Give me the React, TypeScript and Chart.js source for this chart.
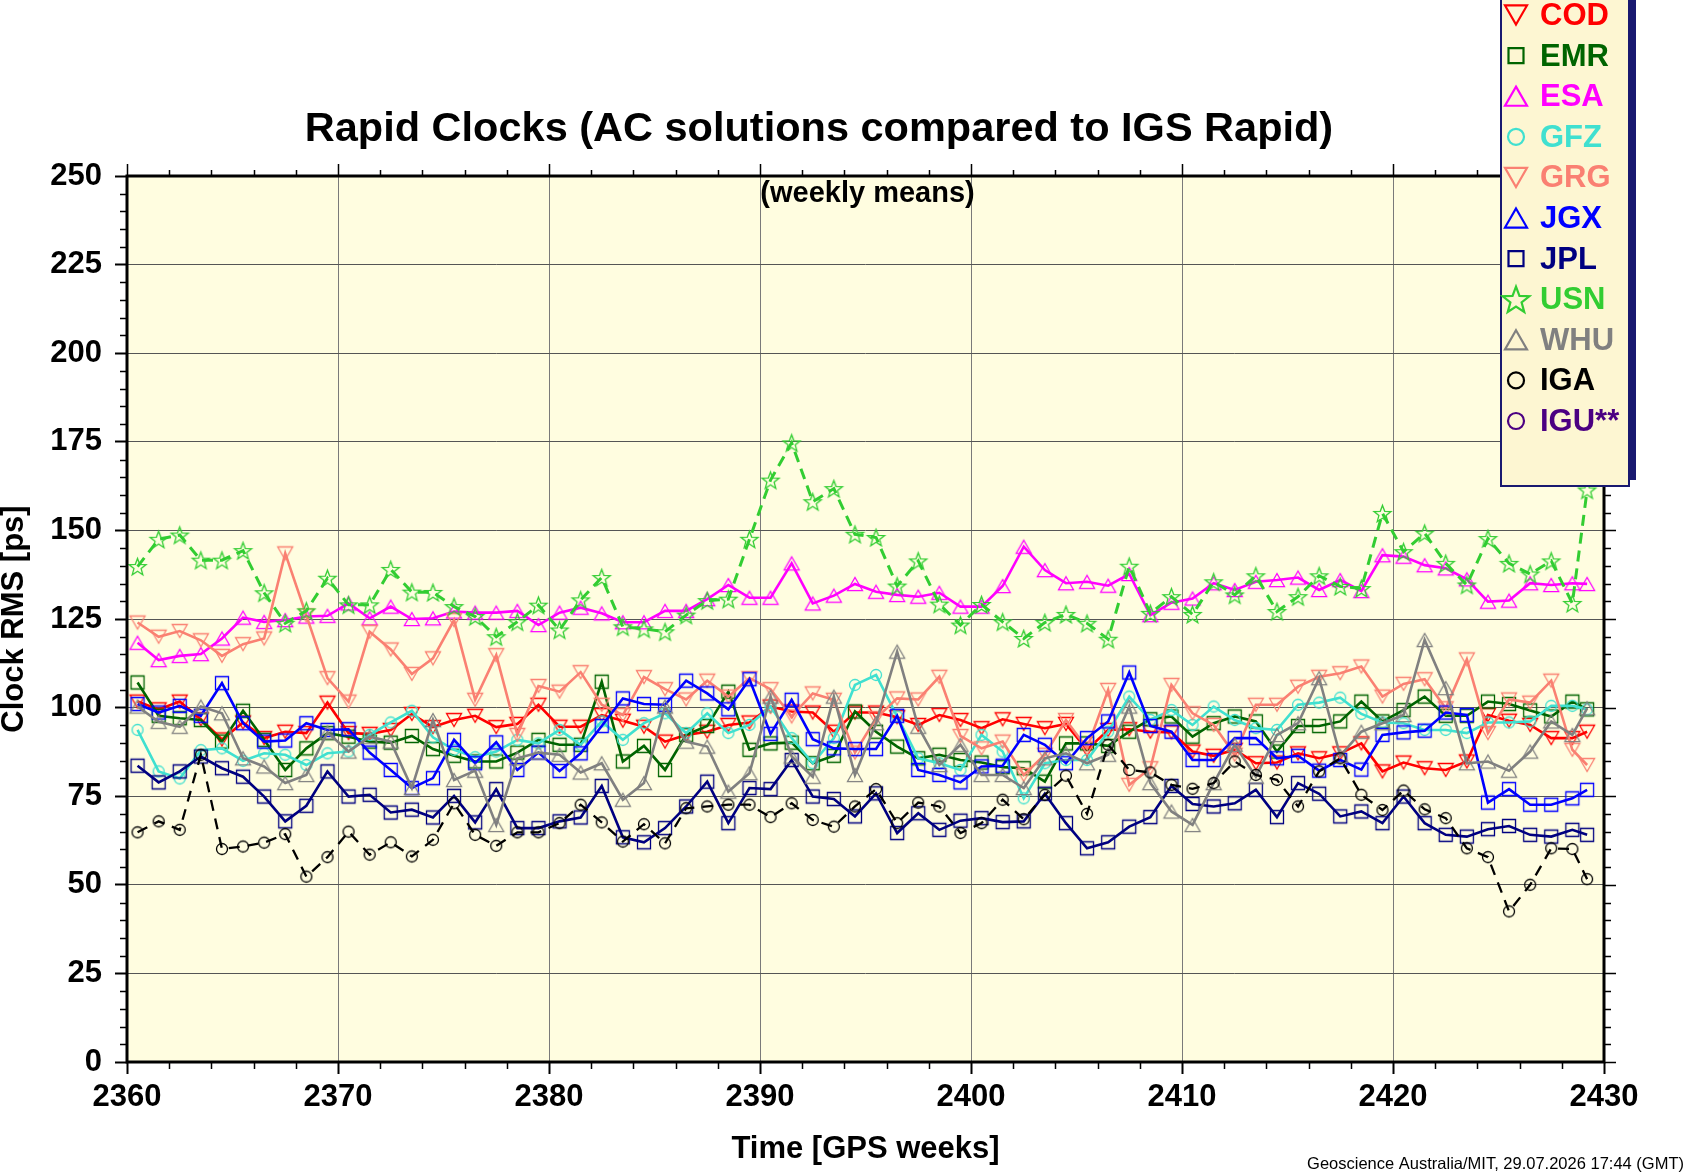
import { useEffect, useRef } from 'react';
import { Chart, registerables } from 'chart.js';

Chart.register(...registerables);

const FONT = "'Liberation Sans', Arial, Helvetica, sans-serif";

// mid-week GPS week of each weekly mean (last one is a partial week)
const weeks = [
  2360.5, 2361.5, 2362.5, 2363.5, 2364.5, 2365.5, 2366.5, 2367.5, 2368.5, 2369.5,
  2370.5, 2371.5, 2372.5, 2373.5, 2374.5, 2375.5, 2376.5, 2377.5, 2378.5, 2379.5,
  2380.5, 2381.5, 2382.5, 2383.5, 2384.5, 2385.5, 2386.5, 2387.5, 2388.5, 2389.5,
  2390.5, 2391.5, 2392.5, 2393.5, 2394.5, 2395.5, 2396.5, 2397.5, 2398.5, 2399.5,
  2400.5, 2401.5, 2402.5, 2403.5, 2404.5, 2405.5, 2406.5, 2407.5, 2408.5, 2409.5,
  2410.5, 2411.5, 2412.5, 2413.5, 2414.5, 2415.5, 2416.5, 2417.5, 2418.5, 2419.5,
  2420.5, 2421.5, 2422.5, 2423.5, 2424.5, 2425.5, 2426.5, 2427.5, 2428.5, 2429.2,
];

// clock RMS [ps] per analysis centre
const cod = [
  101.7, 99.5, 101.7, 96.7, 91.0, 95.8, 91.4, 93.2, 92.8, 101.4,
  92.8, 92.6, 93.7, 98.2, 94.5, 96.5, 97.7, 94.5, 95.4, 100.8,
  94.6, 94.6, 97.9, 96.3, 94.6, 90.4, 92.3, 93.2, 95.1, 95.8,
  100.3, 98.9, 98.6, 93.2, 98.6, 98.6, 97.3, 95.1, 97.9, 96.5,
  94.2, 96.7, 95.4, 94.2, 95.4, 88.1, 93.7, 93.9, 93.2, 93.0,
  87.6, 86.4, 88.1, 84.3, 84.5, 87.1, 85.7, 87.1, 89.9, 82.0,
  84.5, 82.9, 82.4, 84.8, 97.9, 96.3, 95.1, 91.4, 91.4, 93.2,
];
const emr = [
  107.1, 97.7, 97.0, 96.5, 90.4, 99.1, 90.9, 82.4, 88.5, 92.8,
  91.8, 90.4, 90.1, 92.0, 88.3, 86.4, 84.8, 84.8, 87.3, 90.9,
  89.5, 89.5, 107.3, 84.8, 89.2, 82.4, 92.3, 94.8, 104.5, 88.1,
  89.9, 90.1, 84.3, 86.4, 98.9, 93.2, 89.0, 85.7, 86.7, 85.2,
  84.5, 83.2, 82.9, 79.1, 89.9, 89.9, 89.2, 93.2, 96.7, 97.5,
  91.8, 95.6, 97.5, 96.1, 87.6, 94.8, 94.8, 96.1, 101.7, 96.1,
  99.3, 103.1, 97.7, 97.7, 101.7, 101.0, 99.2, 97.5, 101.7, 99.5,
];
const esa = [
  118.3, 113.4, 114.6, 115.1, 119.5, 125.4, 124.2, 124.7, 125.7, 125.9,
  129.4, 125.2, 128.5, 125.0, 125.2, 127.1, 126.8, 126.8, 127.3, 123.3,
  126.8, 128.2, 126.6, 124.1, 124.1, 127.3, 127.3, 130.6, 134.6, 131.0,
  131.0, 140.7, 129.4, 131.6, 134.9, 132.7, 131.8, 131.3, 132.4, 128.5,
  128.5, 134.3, 145.4, 138.8, 135.1, 135.5, 134.4, 137.7, 126.1, 129.6,
  130.8, 135.1, 133.2, 135.5, 136.0, 136.7, 133.2, 136.0, 132.9, 143.0,
  142.6, 140.2, 139.3, 136.2, 129.9, 130.2, 135.1, 134.6, 135.1, 134.9,
];
const gfz = [
  93.7, 82.0, 80.0, 88.0, 88.5, 85.0, 87.1, 86.7, 83.8, 87.1,
  87.6, 92.3, 95.8, 99.1, 91.6, 88.1, 86.0, 87.6, 90.9, 89.9,
  93.7, 89.5, 96.1, 90.9, 95.6, 98.4, 92.8, 98.4, 92.8, 95.1,
  100.3, 91.4, 84.3, 91.4, 106.4, 109.2, 97.5, 85.7, 84.3, 82.4,
  92.3, 87.6, 74.4, 84.3, 85.2, 85.2, 93.2, 103.1, 96.5, 99.3,
  95.1, 100.3, 96.5, 94.2, 93.7, 100.8, 101.4, 102.8, 98.2, 95.8,
  95.6, 93.7, 93.7, 92.8, 95.8, 95.8, 96.1, 100.5, 100.5, 99.5,
];
const grg = [
  124.0, 120.0, 121.6, 119.0, 114.6, 117.9, 119.5, 143.5, 126.0, 108.3,
  101.7, 121.4, 116.4, 109.5, 113.9, 124.7, 102.2, 114.8, 92.3, 106.1,
  104.5, 110.0, 100.8, 97.9, 108.6, 105.2, 102.3, 107.6, 103.1, 108.3,
  105.2, 97.5, 104.0, 102.2, 87.3, 97.0, 102.6, 102.3, 108.7, 92.0,
  88.5, 90.4, 81.0, 86.7, 96.5, 88.5, 105.0, 78.2, 82.9, 106.4,
  98.4, 95.1, 86.7, 100.8, 100.8, 105.9, 108.7, 109.7, 111.6, 103.1,
  106.7, 108.0, 99.8, 113.6, 92.8, 102.3, 101.4, 107.6, 88.1, 83.8,
];
const jgx = [
  101.0, 98.6, 100.5, 97.7, 106.9, 95.6, 90.4, 90.7, 95.6, 93.7,
  93.9, 87.3, 82.4, 77.3, 80.1, 90.9, 84.3, 90.2, 82.4, 87.3,
  82.1, 87.1, 94.8, 102.6, 101.0, 100.8, 107.6, 104.0, 99.5, 108.0,
  92.6, 102.2, 91.1, 88.5, 88.3, 88.3, 97.7, 82.4, 81.0, 78.9,
  83.4, 83.6, 92.3, 89.5, 84.3, 91.4, 96.1, 109.9, 94.8, 93.2,
  85.2, 85.2, 91.4, 91.4, 85.7, 86.4, 82.2, 85.2, 82.5, 92.3,
  93.0, 93.5, 98.6, 97.9, 73.2, 77.0, 72.6, 72.6, 74.4, 76.8,
];
const jpl = [
  83.6, 78.9, 82.0, 86.2, 82.9, 80.5, 74.9, 67.9, 72.3, 82.0,
  74.9, 75.4, 70.4, 71.2, 69.0, 75.1, 67.6, 77.0, 66.0, 66.0,
  67.9, 69.0, 77.9, 63.4, 62.0, 66.0, 72.1, 79.1, 67.4, 77.3,
  77.0, 85.2, 74.9, 74.2, 69.3, 75.8, 64.6, 70.2, 65.5, 68.1,
  68.8, 67.7, 67.9, 75.7, 67.4, 60.3, 62.0, 66.4, 69.1, 77.9,
  72.8, 72.1, 73.0, 76.8, 69.1, 78.7, 75.7, 69.3, 70.7, 67.4,
  74.9, 67.4, 64.1, 63.6, 65.7, 66.6, 64.1, 63.6, 65.5, 64.1,
];
const usn = [
  139.8, 147.5, 148.7, 141.6, 141.6, 144.3, 132.4, 123.8, 127.3, 136.5,
  129.0, 129.0, 139.0, 132.6, 132.5, 128.5, 125.7, 120.0, 124.2, 128.9,
  121.9, 130.4, 136.7, 122.8, 122.2, 121.4, 126.1, 130.2, 130.6, 147.5,
  164.2, 174.7, 158.1, 161.8, 148.9, 148.0, 134.3, 141.4, 129.2, 123.3,
  129.1, 124.2, 119.5, 124.0, 126.3, 123.8, 119.3, 139.9, 126.6, 131.3,
  126.3, 135.5, 131.8, 137.2, 127.1, 131.3, 137.2, 134.2, 133.6, 154.8,
  144.0, 149.2, 140.7, 134.6, 147.7, 140.7, 137.7, 141.4, 129.4, 161.4,
];
const whu = [
  100.3, 96.0, 94.6, 100.3, 98.4, 85.7, 83.4, 78.7, 81.0, 93.0,
  87.6, 91.8, 90.4, 77.3, 96.5, 79.6, 82.2, 66.9, 85.7, 87.3,
  86.7, 81.7, 84.3, 74.0, 78.7, 100.3, 90.4, 89.0, 76.3, 81.5,
  103.1, 86.2, 80.5, 103.1, 81.0, 95.6, 115.8, 94.6, 83.8, 89.5,
  81.0, 81.0, 77.3, 85.7, 87.1, 84.3, 86.7, 100.3, 78.7, 70.7,
  66.9, 78.7, 89.5, 80.5, 92.3, 95.6, 108.3, 86.4, 93.2, 95.6,
  97.9, 119.1, 105.5, 84.3, 84.8, 82.2, 87.6, 96.1, 92.3, 99.8,
];
const iga = [
  64.8, 67.9, 65.5, 86.7, 60.1, 60.8, 61.9, 64.3, 52.3, 57.8,
  65.0, 58.5, 62.0, 58.0, 62.7, 73.0, 64.1, 61.0, 64.8, 64.8,
  67.4, 72.6, 67.6, 62.2, 67.1, 61.7, 71.6, 72.1, 72.6, 72.6,
  69.1, 73.0, 68.3, 66.4, 72.1, 77.0, 67.4, 73.2, 72.1, 64.6,
  67.4, 74.0, 68.5, 75.4, 80.8, 70.0, 89.5, 82.4, 81.7, 78.2,
  77.1, 78.7, 84.8, 81.0, 79.6, 72.1, 82.0, 85.7, 75.4, 71.1,
  76.6, 71.3, 68.8, 60.3, 57.8, 42.5, 50.0, 60.3, 60.1, 51.6,
];

type Shape = 'triDown' | 'triUp' | 'square' | 'circle' | 'star';

// plotted series (IGU** has no points in this window, legend only)
const series = [
  { name: 'COD', values: cod, color: '#ff0000', shape: 'triDown' as Shape, size: 15, width: 2.6, dash: [] as number[] },
  { name: 'EMR', values: emr, color: '#006400', shape: 'square' as Shape, size: 13, width: 2.6, dash: [] },
  { name: 'ESA', values: esa, color: '#ff00ff', shape: 'triUp' as Shape, size: 15, width: 2.6, dash: [] },
  { name: 'GFZ', values: gfz, color: '#40e0d0', shape: 'circle' as Shape, size: 11, width: 2.6, dash: [] },
  { name: 'GRG', values: grg, color: '#fa8072', shape: 'triDown' as Shape, size: 15, width: 2.6, dash: [] },
  { name: 'JGX', values: jgx, color: '#0000ff', shape: 'square' as Shape, size: 13, width: 2.6, dash: [] },
  { name: 'JPL', values: jpl, color: '#000080', shape: 'square' as Shape, size: 13, width: 2.6, dash: [] },
  { name: 'USN', values: usn, color: '#32cd32', shape: 'star' as Shape, size: 18, width: 3, dash: [11, 7] },
  { name: 'WHU', values: whu, color: '#808080', shape: 'triUp' as Shape, size: 15, width: 2.6, dash: [] },
  { name: 'IGA', values: iga, color: '#000000', shape: 'circle' as Shape, size: 11, width: 2.3, dash: [11, 8] },
];

const legendNames = ['COD', 'EMR', 'ESA', 'GFZ', 'GRG', 'JGX', 'JPL', 'USN', 'WHU', 'IGA', 'IGU**'];
const legendColors = ['#ff0000', '#006400', '#ff00ff', '#40e0d0', '#fa8072', '#0000ff', '#000080', '#32cd32', '#808080', '#000000', '#4b0082'];
const legendShapes: Shape[] = ['triDown', 'square', 'triUp', 'circle', 'triDown', 'triUp', 'square', 'star', 'triUp', 'circle', 'circle'];
const legendSizes = { triDown: 22, triUp: 22, square: 15, circle: 16, star: 28 };

const tracePath = (ctx: CanvasRenderingContext2D, shape: Shape, cx: number, cy: number, s: number) => {
  const h = s * 0.87;
  ctx.beginPath();
  if (shape === 'triUp') {
    ctx.moveTo(cx, cy - h / 2);
    ctx.lineTo(cx + s / 2, cy + h / 2);
    ctx.lineTo(cx - s / 2, cy + h / 2);
    ctx.closePath();
  } else if (shape === 'triDown') {
    ctx.moveTo(cx, cy + h / 2);
    ctx.lineTo(cx + s / 2, cy - h / 2);
    ctx.lineTo(cx - s / 2, cy - h / 2);
    ctx.closePath();
  } else if (shape === 'square') {
    ctx.rect(cx - s / 2, cy - s / 2, s, s);
  } else if (shape === 'circle') {
    ctx.arc(cx, cy, s / 2, 0, Math.PI * 2);
  } else {
    const R = s / 2;
    const r = R * 0.42;
    for (let k = 0; k < 10; k++) {
      const a = -Math.PI / 2 + (k * Math.PI) / 5;
      const rr = k % 2 === 0 ? R : r;
      const px = cx + rr * Math.cos(a);
      const py = cy + rr * Math.sin(a) + R * 0.1;
      if (k === 0) ctx.moveTo(px, py);
      else ctx.lineTo(px, py);
    }
    ctx.closePath();
  }
};

const makeMarker = (shape: Shape, color: string, s: number, lw: number) => {
  const c = document.createElement('canvas');
  const n = Math.ceil(s + lw * 2 + 2);
  c.width = n;
  c.height = n;
  const ctx = c.getContext('2d');
  if (ctx) {
    ctx.strokeStyle = color;
    ctx.lineWidth = lw;
    tracePath(ctx, shape, n / 2, n / 2, s);
    ctx.stroke();
  }
  return c;
};

const framePlugin = {
  id: 'gmtFrame',
  beforeDraw(chart: Chart) {
    const { ctx, chartArea: a } = chart;
    ctx.save();
    ctx.fillStyle = '#fffde0';
    ctx.fillRect(a.left, a.top, a.right - a.left, a.bottom - a.top);
    ctx.restore();
  },
  afterDraw(chart: Chart) {
    const { ctx, chartArea: a, scales } = chart;
    const xs = scales.x;
    const ys = scales.y;
    ctx.save();

    // minor ticks and the ticks on the right and top frame
    ctx.strokeStyle = '#000';
    ctx.lineWidth = 1.5;
    ctx.beginPath();
    for (let v = 0; v <= 250; v += 5) {
      const py = Math.round(ys.getPixelForValue(v)) + 0.5;
      const major = v % 25 === 0;
      if (!major) {
        ctx.moveTo(a.left, py);
        ctx.lineTo(a.left - 7, py);
      }
      ctx.moveTo(a.right, py);
      ctx.lineTo(a.right + (major ? 12 : 7), py);
    }
    for (let w = 2360; w <= 2430; w += 2) {
      const px = Math.round(xs.getPixelForValue(w)) + 0.5;
      const major = w % 10 === 0;
      if (!major) {
        ctx.moveTo(px, a.bottom);
        ctx.lineTo(px, a.bottom + 7);
      }
      ctx.moveTo(px, a.top);
      ctx.lineTo(px, a.top - (major ? 12 : 6));
    }
    ctx.stroke();

    ctx.lineWidth = 3;
    ctx.strokeRect(a.left, a.top, a.right - a.left, a.bottom - a.top);

    // texts
    const cx = (a.left + a.right) / 2;
    ctx.fillStyle = '#000';
    ctx.textBaseline = 'alphabetic';
    ctx.textAlign = 'center';
    ctx.font = `bold 41.5px ${FONT}`;
    ctx.fillText('Rapid Clocks (AC solutions compared to IGS Rapid)', 819, 141);
    ctx.font = `bold 29px ${FONT}`;
    ctx.fillText('(weekly means)', cx + 2, 202);
    ctx.font = `bold 31px ${FONT}`;
    ctx.fillText('Time [GPS weeks]', cx, 1158);
    ctx.save();
    ctx.translate(23, (a.top + a.bottom) / 2);
    ctx.rotate(-Math.PI / 2);
    ctx.fillText('Clock RMS [ps]', 0, 0);
    ctx.restore();
    ctx.textAlign = 'right';
    ctx.font = `16.5px ${FONT}`;
    ctx.fillText('Geoscience Australia/MIT, 29.07.2026 17:44 (GMT)', 1684, 1169);

    // legend box with shadow
    ctx.fillStyle = '#191970';
    ctx.fillRect(1506, -10, 130, 490);
    ctx.fillStyle = '#fdf6d2';
    ctx.fillRect(1500, -10, 130, 497);
    ctx.strokeStyle = '#191970';
    ctx.lineWidth = 2;
    ctx.strokeRect(1501, -10, 128, 496);
    ctx.font = `bold 31px ${FONT}`;
    ctx.textAlign = 'left';
    legendNames.forEach((name, k) => {
      const base = 25 + k * 40.6;
      ctx.strokeStyle = legendColors[k];
      ctx.lineWidth = 2.2;
      tracePath(ctx, legendShapes[k], 1516, base - 10, legendSizes[legendShapes[k]]);
      ctx.stroke();
      ctx.fillStyle = legendColors[k];
      ctx.fillText(name, 1540, base);
    });

    ctx.restore();
  },
};

const RapidClocksChart = () => {
  const chartRef = useRef<HTMLCanvasElement>(null);
  const chartInstance = useRef<Chart | null>(null);

  useEffect(() => {
    if (!chartRef.current) return;
    if (chartInstance.current) chartInstance.current.destroy();

    const datasets = series.map((s, i) => ({
      label: s.name,
      data: s.values.map((v, k) => ({ x: weeks[k], y: v })),
      borderColor: s.color,
      backgroundColor: s.color,
      borderWidth: s.width,
      borderDash: s.dash,
      pointStyle: makeMarker(s.shape, s.color, s.size, 1.3),
      pointRadius: 6,
      tension: 0,
      fill: false,
      order: series.length - i,
    }));

    chartInstance.current = new Chart(chartRef.current, {
      type: 'line',
      data: { datasets },
      plugins: [framePlugin],
      options: {
        responsive: false,
        animation: false,
        events: [],
        layout: { padding: { top: 176, right: 81, bottom: 0, left: 0 } },
        plugins: {
          legend: { display: false },
          tooltip: { enabled: false },
          title: { display: false },
        },
        scales: {
          x: {
            type: 'linear',
            min: 2360,
            max: 2430,
            afterFit: (scale) => {
              scale.height = 111;
            },
            border: { display: false },
            grid: {
              color: '#7a7a7a',
              lineWidth: 1,
              drawTicks: true,
              tickLength: 12,
              tickColor: '#000',
              tickWidth: 2,
            },
            ticks: {
              stepSize: 10,
              autoSkip: false,
              maxRotation: 0,
              padding: 5,
              color: '#000',
              font: { family: FONT, size: 31, weight: 'bold' },
              callback: (v) => String(v),
            },
          },
          y: {
            min: 0,
            max: 250,
            afterFit: (scale) => {
              scale.width = 127;
            },
            border: { display: false },
            grid: {
              color: '#555555',
              lineWidth: 1,
              drawTicks: true,
              tickLength: 12,
              tickColor: '#000',
              tickWidth: 2,
            },
            ticks: {
              stepSize: 25,
              padding: 13,
              color: '#000',
              font: { family: FONT, size: 31, weight: 'bold' },
            },
          },
        },
      },
    });

    return () => {
      if (chartInstance.current) {
        chartInstance.current.destroy();
        chartInstance.current = null;
      }
    };
  }, []);

  return <canvas ref={chartRef} width={1685} height={1173} style={{ width: 1685, height: 1173 }} />;
};

export default function App() {
  return (
    <div style={{ position: 'absolute', left: 0, top: 0, width: 1685, height: 1173, background: '#fff' }}>
      <RapidClocksChart />
    </div>
  );
}
